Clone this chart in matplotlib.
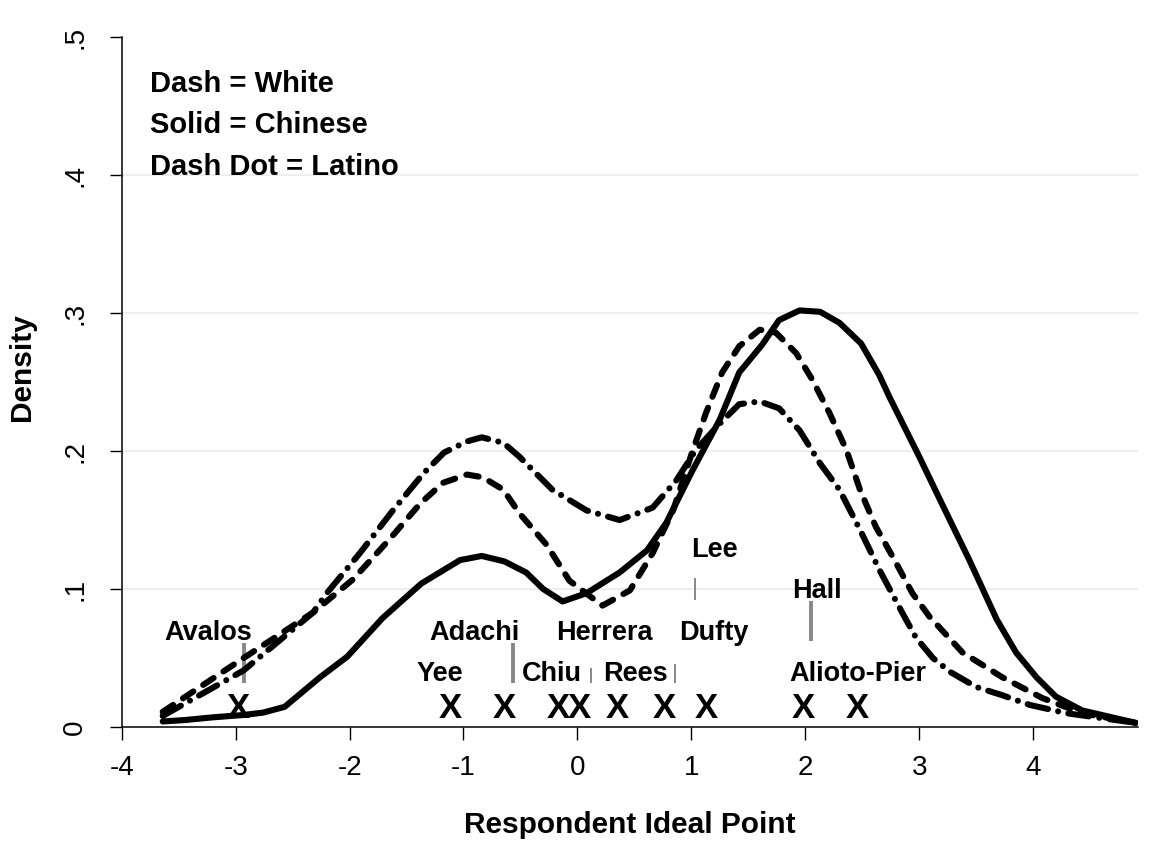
import matplotlib
matplotlib.use("Agg")
import matplotlib.pyplot as plt

plt.rcParams['font.family'] = ['Liberation Sans', 'DejaVu Sans']
plt.rcParams['lines.scale_dashes'] = False

# kernel density of respondent ideal points, by group
chinese_x = [-3.64, -3.45, -3.2, -2.93, -2.76, -2.57, -2.26, -2.02, -1.71, -1.37,
             -1.03, -0.84, -0.64, -0.45, -0.30, -0.13, 0.08, 0.37, 0.61, 0.78,
             1.01, 1.25, 1.42, 1.62, 1.77, 1.95, 2.13, 2.30, 2.49, 2.65,
             2.74, 3.0, 3.21, 3.44, 3.68, 3.85, 4.03, 4.2, 4.43, 4.9]
chinese_y = [0.004, 0.005, 0.007, 0.0087, 0.0104, 0.0146, 0.036, 0.051, 0.079, 0.104,
             0.121, 0.124, 0.120, 0.112, 0.100, 0.091, 0.097, 0.112, 0.128, 0.148,
             0.186, 0.223, 0.257, 0.277, 0.295, 0.302, 0.301, 0.293, 0.278, 0.255,
             0.239, 0.196, 0.160, 0.121, 0.078, 0.054, 0.036, 0.022, 0.012, 0.003]

white_x = [-3.64, -2.93, -2.32, -1.97, -1.65, -1.38, -1.18, -0.97, -0.83, -0.65,
           -0.51, -0.27, -0.07, 0.22, 0.46, 0.66, 0.84, 1.01, 1.13, 1.27,
           1.42, 1.60, 1.74, 1.92, 2.06, 2.21, 2.36, 2.48, 2.62, 2.77,
           2.94, 3.09, 3.38, 3.73, 4.08, 4.43, 4.9]
white_y = [0.011, 0.050, 0.083, 0.107, 0.136, 0.162, 0.177, 0.183, 0.181, 0.172,
           0.155, 0.132, 0.106, 0.088, 0.099, 0.126, 0.157, 0.200, 0.228, 0.257,
           0.276, 0.288, 0.286, 0.271, 0.252, 0.228, 0.201, 0.172, 0.145, 0.123,
           0.097, 0.080, 0.054, 0.036, 0.021, 0.010, 0.003]

latino_x = [-3.64, -2.93, -2.32, -2.2, -1.91, -1.62, -1.35, -1.17, -0.97, -0.84,
            -0.65, -0.51, -0.22, 0.08, 0.37, 0.66, 0.87, 1.04, 1.25, 1.42,
            1.60, 1.77, 1.95, 2.13, 2.30, 2.48, 2.65, 2.85, 2.97, 3.12,
            3.27, 3.5, 3.73, 3.97, 4.29, 4.9]
latino_y = [0.008, 0.041, 0.083, 0.097, 0.126, 0.157, 0.184, 0.199, 0.207, 0.210,
            0.206, 0.196, 0.172, 0.157, 0.150, 0.159, 0.179, 0.201, 0.220, 0.234,
            0.236, 0.231, 0.215, 0.191, 0.172, 0.143, 0.114, 0.083, 0.065, 0.050,
            0.040, 0.029, 0.023, 0.016, 0.010, 0.003]

# candidate positions: X marks along the bottom
cand_marks = [-2.98, -1.12, -0.64, -0.17, 0.02, 0.35, 0.76, 1.13, 1.98, 2.46]

# gray spikes (x, bottom, top, width in pt)
spike_x = [-2.925, -0.565, 0.12, 0.86, 1.035, 2.05]
spike_lo = [0.032, 0.032, 0.032, 0.032, 0.092, 0.062]
spike_hi = [0.061, 0.061, 0.043, 0.046, 0.108, 0.091]
spike_w = [2.8, 2.8, 1.4, 1.4, 1.4, 2.8]

# candidate names (x center, baseline y)
names = ['Avalos', 'Adachi', 'Herrera', 'Dufty', 'Yee', 'Chiu', 'Rees',
         'Alioto-Pier', 'Lee', 'Hall']
name_x = [-3.245, -0.907, 0.236, 1.20, -1.21, -0.225, 0.51, 2.46, 1.20, 2.10]
name_y = [0.063, 0.063, 0.063, 0.063, 0.033, 0.033, 0.033, 0.033, 0.1235, 0.0933]

key_lines = ['Dash = White', 'Solid = Chinese', 'Dash Dot = Latino']

xticks = [-4, -3, -2, -1, 0, 1, 2, 3, 4]
yticks = [0, 0.1, 0.2, 0.3, 0.4, 0.5]
ytick_labels = ['0', '.1', '.2', '.3', '.4', '.5']
grid_levels = [0.1, 0.2, 0.3, 0.4]

fig = plt.figure(figsize=(11.58, 8.42), dpi=100)
ax = fig.add_axes([0.1051, 0.1366, 0.8776, 0.8191])

for g in grid_levels:
    ax.axhline(g, color='#e8f0f2', lw=1.6, zorder=0)

lw = 4.4
ax.plot(white_x, white_y, color='black', lw=lw, dashes=(9, 8.5),
        dash_capstyle='round', solid_joinstyle='round', zorder=3)
ax.plot(chinese_x, chinese_y, color='black', lw=lw,
        solid_capstyle='round', solid_joinstyle='round', zorder=3)
ax.plot(latino_x, latino_y, color='black', lw=lw, dashes=(15, 7.5, 0.01, 7.5),
        dash_capstyle='round', solid_joinstyle='round', zorder=3)

for xs, lo, hi, w in zip(spike_x, spike_lo, spike_hi, spike_w):
    ax.plot([xs, xs], [lo, hi], color='#888888', lw=w, solid_capstyle='butt', zorder=2)

for xm in cand_marks:
    ax.text(xm, 0.0064, 'X', ha='center', va='baseline', fontsize=25,
            fontweight='bold', zorder=4)

for nm, nx, ny in zip(names, name_x, name_y):
    ax.text(nx, ny, nm, ha='center', va='baseline', fontsize=19.5,
            fontweight='bold', zorder=4)

key_y = [0.9207, 0.8613, 0.8003]
for txt, ky in zip(key_lines, key_y):
    ax.text(0.0278, ky, txt, transform=ax.transAxes, ha='left', va='baseline',
            fontsize=21, fontweight='bold')

ax.set_xlim(-4, 4.92)
ax.set_ylim(0, 0.5)
ax.spines['top'].set_visible(False)
ax.spines['right'].set_visible(False)
ax.spines['left'].set_bounds(0, 0.5)
ax.spines['left'].set_linewidth(1.1)
ax.spines['bottom'].set_linewidth(1.1)

ax.set_xticks(xticks)
ax.set_xticklabels([str(t) for t in xticks], fontsize=20)
ax.set_yticks(yticks)
ax.set_yticklabels(ytick_labels, fontsize=20, rotation=90, va='center')
ax.tick_params(axis='both', length=9, width=1.0, direction='out')
ax.tick_params(axis='x', pad=11)
ax.tick_params(axis='y', pad=15)

ax.set_xlabel('Respondent Ideal Point', fontsize=21.5, fontweight='bold')
ax.xaxis.set_label_coords(0.5, -0.154)
ax.xaxis.label.set_va('baseline')
ax.set_ylabel('Density', fontsize=21.5, fontweight='bold')
ax.yaxis.set_label_coords(-0.098, 0.522)
ax.yaxis.label.set_va('center')

fig.savefig('out.png', dpi=100, facecolor='white')
